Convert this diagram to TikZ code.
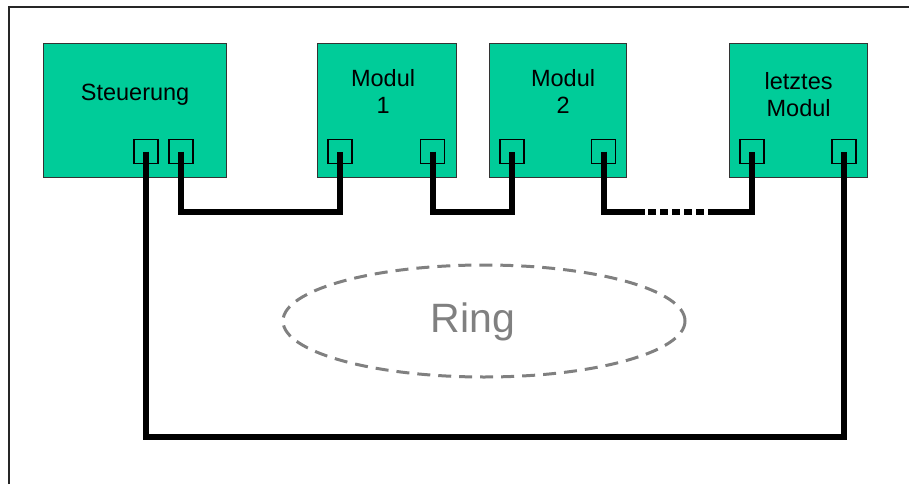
\documentclass[tikz,border=0pt]{standalone}
\usepackage{fontspec}
\setmainfont{Liberation Sans}
\usepackage{tikz}
\usetikzlibrary{positioning}
\definecolor{modgreen}{RGB}{0,204,153}
\definecolor{ringgray}{RGB}{128,128,128}
\tikzstyle{block} = [rectangle, draw=black!80, line width=1.2pt, fill=modgreen,
    anchor=north west, minimum height=134pt, inner sep=0pt]
\tikzstyle{port} = [rectangle, draw=black, line width=1.5pt, minimum size=24pt, inner sep=0pt]
\tikzstyle{lbl} = [align=center, inner sep=0pt, anchor=north,
    font=\fontsize{23.5}{27}\selectfont]
\tikzstyle{wire} = [line width=6pt, black]
\tikzstyle{dots} = [line width=6pt, black, dash pattern=on 8pt off 4pt]

\begin{document}
\begin{tikzpicture}[x=1pt, y=-1pt]
		\useasboundingbox (0,0) rectangle (909,484);
		\draw [black!85, line width=1.2pt] (9,484) |- (909,7);

		% draw the boxes first
		\node [block, minimum width=183pt] (stg) at (43,43) {};
		\node [block, minimum width=139pt] (mod1) at (317,43) {};
		\node [block, minimum width=137pt] (mod2) at (489,43) {};
		\node [block, minimum width=138pt] (last) at (729,43) {};

		\node [lbl, below=41pt of stg.north] (stgtext) {Steuerung};
		\node [lbl, below=26pt of mod1.north, xshift=-4pt] (mod1text) {Modul\\1};
		\node [lbl, below=26pt of mod2.north, xshift=5pt] (mod2text) {Modul\\2};
		\node [lbl, below=29pt of last.north] (lasttext) {letztes\\Modul};

		% the ports
		\node [port] (s1) at (146,151.5) {};
		\node [port] (s2) at (181,151.5) {};
		\node [port] (m1a) at (340,151.5) {};
		\node [port] (m1b) at (432.5,151.5) {};
		\node [port] (m2a) at (512,151.5) {};
		\node [port] (m2b) at (603.5,151.5) {};
		\node [port] (m3a) at (752,151.5) {};
		\node [port] (m3b) at (844,151.5) {};

		% draw the wires connecting the ports
		\coordinate (dotstart) at (645,212);
		\coordinate (dotend) at (708,212);
		\draw [wire] (s2.center) -- (s2.center |- 0,212) -| (m1a.center);
		\draw [wire] (m1b.center) -- (m1b.center |- 0,212) -| (m2a.center);
		\draw [wire] (m2b.center) |- (dotstart);
		\draw [dots] (dotstart) ++(3,0) -- (dotend);
		\draw [wire] (dotend) -| (m3a.center);
		\draw [wire] (s1.center) -- (s1.center |- 0,437) -| (m3b.center);

		% the ring
		\node [ringgray, inner sep=0pt, anchor=base, font=\fontsize{41}{41}\selectfont] (ringtext) at (473,332) {Ring};
		\draw [ringgray, line width=3pt, dash pattern=on 13pt off 8pt] (484,321) ellipse [x radius=201pt, y radius=56pt];
	\end{tikzpicture}
\end{document}
